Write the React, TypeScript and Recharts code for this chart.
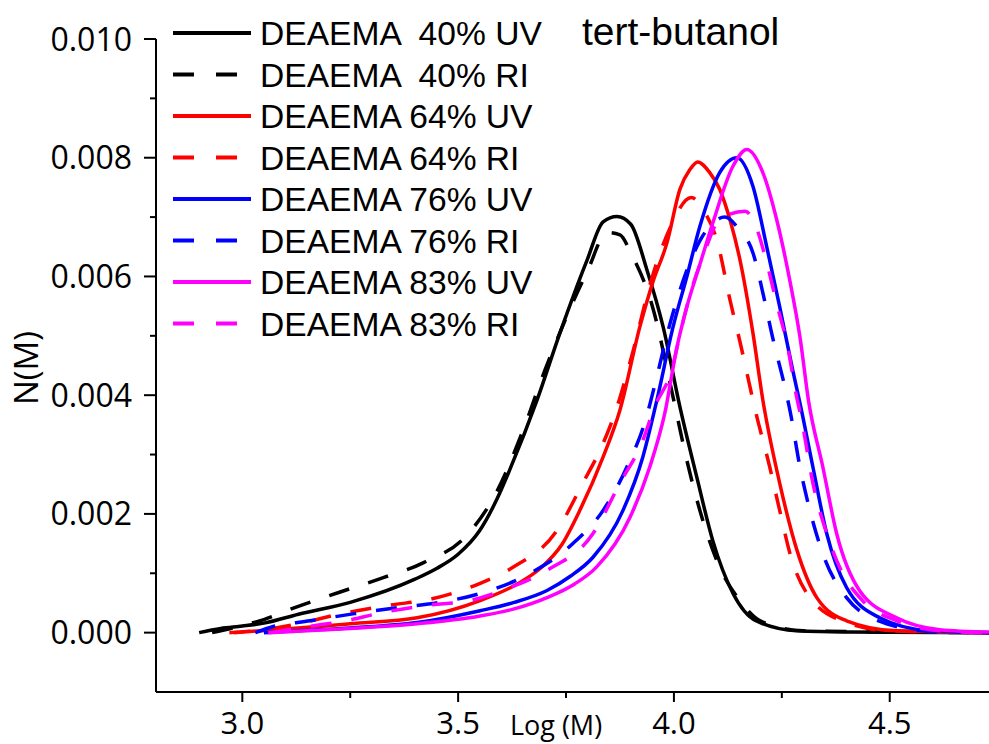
import React from 'react';
import { LineChart, Line, XAxis, YAxis } from 'recharts';

// ---- data: [log(M), N(M)] ----
const uv40: [number, number][] = [
  [2.9, 0], [2.95, 0.00007], [3.0, 0.00011], [3.05, 0.00016], [3.13, 0.00031], [3.25, 0.00051],
  [3.4, 0.0009], [3.45, 0.00108], [3.5, 0.00132], [3.55, 0.00172], [3.59, 0.00225], [3.62, 0.00275],
  [3.683, 0.00392], [3.736, 0.00505], [3.799, 0.00628], [3.836, 0.00692], [3.868, 0.00701],
  [3.9, 0.00688], [3.9375, 0.00611], [3.975, 0.00515], [4.014, 0.0038], [4.053, 0.00262],
  [4.09, 0.00155], [4.137, 0.00066], [4.19, 0.0002], [4.285, 0.00003], [4.4, 0.00001], [4.73, 0],
];
const ri40: [number, number][] = [
  [2.93, 0], [3.0, 0.00012], [3.05, 0.00022], [3.11, 0.00039], [3.225, 0.00068], [3.32, 0.00091],
  [3.42, 0.00118], [3.52, 0.00164], [3.59, 0.00238], [3.65, 0.0034], [3.7, 0.0044],
  [3.75, 0.0053], [3.8, 0.0061], [3.845, 0.00674], [3.875, 0.0067], [3.9, 0.0064],
  [3.95, 0.0055], [4.0, 0.0039], [4.03, 0.0029], [4.067, 0.00189], [4.106, 0.0011],
  [4.153, 0.00054], [4.2, 0.0002], [4.3, 0.00003], [4.73, 0],
];
const uv64: [number, number][] = [
  [2.98, 0], [3.1, 0.00006], [3.25, 0.00015], [3.405, 0.00025], [3.551, 0.00054], [3.637, 0.00082],
  [3.69, 0.00108], [3.74, 0.00148], [3.782, 0.00206], [3.836, 0.00296], [3.875, 0.00375],
  [3.921, 0.00515], [3.951, 0.0059], [3.984, 0.00657], [4.014, 0.00747], [4.037, 0.0078],
  [4.055, 0.00793], [4.083, 0.00775], [4.106, 0.00747], [4.13, 0.00695], [4.153, 0.00628],
  [4.183, 0.00505], [4.206, 0.00392], [4.245, 0.00252], [4.285, 0.00139], [4.331, 0.00059],
  [4.4, 0.0002], [4.516, 0.00003], [4.73, 0],
];
const ri64: [number, number][] = [
  [2.97, 0], [3.05, 0.00005], [3.13, 0.00015], [3.23, 0.00032], [3.34, 0.00046], [3.44, 0.00057],
  [3.551, 0.00083], [3.627, 0.0011], [3.729, 0.00172], [3.789, 0.00252], [3.836, 0.00319],
  [3.868, 0.0038], [3.9, 0.0046], [3.95, 0.006], [3.99, 0.0068], [4.04, 0.00733],
  [4.07, 0.0071], [4.1, 0.0066], [4.13, 0.0056], [4.153, 0.0049], [4.19, 0.0037],
  [4.222, 0.00279], [4.245, 0.00206], [4.269, 0.00133], [4.315, 0.00059], [4.4, 0.00017],
  [4.5, 0.00003], [4.73, 0],
];
const uv76: [number, number][] = [
  [3.05, 0], [3.15, 0.00004], [3.25, 0.00008], [3.405, 0.00017], [3.551, 0.00037], [3.63, 0.00051],
  [3.706, 0.00071], [3.76, 0.00095], [3.8125, 0.00127], [3.882, 0.00206], [3.928, 0.00296],
  [3.96, 0.0039], [3.998, 0.00515], [4.03, 0.006], [4.06, 0.00684], [4.106, 0.00775],
  [4.146, 0.008], [4.183, 0.00752], [4.215, 0.0065], [4.245, 0.00549], [4.275, 0.00443],
  [4.294, 0.0038], [4.322, 0.00279], [4.354, 0.00167], [4.4, 0.00076], [4.477, 0.00025],
  [4.593, 0.00003], [4.73, 0],
];
const ri76: [number, number][] = [
  [3.03, 0], [3.07, 0.0001], [3.157, 0.0002], [3.26, 0.00032], [3.36, 0.00042], [3.458, 0.00051],
  [3.551, 0.00066], [3.667, 0.001], [3.766, 0.0015], [3.836, 0.00206], [3.891, 0.00279],
  [3.935, 0.0036], [3.96, 0.0043], [3.987, 0.0051], [4.02, 0.0059], [4.06, 0.0066],
  [4.09, 0.0069], [4.118, 0.007], [4.15, 0.0068], [4.183, 0.0064], [4.208, 0.00566],
  [4.23, 0.00493], [4.255, 0.0042], [4.27, 0.0037], [4.292, 0.00279], [4.315, 0.00206],
  [4.345, 0.00133], [4.4, 0.00059], [4.493, 0.00015], [4.6, 0.00002], [4.73, 0],
];
const uv83: [number, number][] = [
  [3.06, 0], [3.15, 0.00003], [3.25, 0.00007], [3.405, 0.00015], [3.551, 0.00028], [3.63, 0.0004],
  [3.706, 0.00059], [3.77, 0.00082], [3.82, 0.0011], [3.898, 0.00194], [3.944, 0.00279],
  [3.979, 0.0037], [4.007, 0.00481], [4.03, 0.00549], [4.06, 0.0062], [4.09, 0.0069],
  [4.137, 0.00786], [4.169, 0.00814], [4.206, 0.00775], [4.238, 0.00696], [4.268, 0.00595],
  [4.292, 0.00498], [4.312, 0.0039], [4.345, 0.00279], [4.377, 0.00167], [4.43, 0.00071],
  [4.516, 0.00025], [4.616, 0.00005], [4.73, 0.00001],
];
const ri83: [number, number][] = [
  [3.065, 0], [3.15, 0.0001], [3.24, 0.0002], [3.326, 0.00034], [3.428, 0.00046], [3.528, 0.00054],
  [3.613, 0.00074], [3.706, 0.00105], [3.8125, 0.00167], [3.875, 0.00252], [3.928, 0.00324],
  [3.955, 0.0038], [3.995, 0.00443], [4.018, 0.00515], [4.042, 0.00581], [4.067, 0.00633],
  [4.106, 0.00696], [4.165, 0.0071], [4.19, 0.00684], [4.215, 0.00623], [4.24, 0.00549],
  [4.264, 0.0048], [4.282, 0.00405], [4.296, 0.00358], [4.322, 0.00252], [4.354, 0.00167],
  [4.384, 0.0011], [4.437, 0.00054], [4.516, 0.0002], [4.62, 0.00003], [4.73, 0],
];

const seriesNames = [
  'DEAEMA  40% UV', 'DEAEMA  40% RI', 'DEAEMA 64% UV', 'DEAEMA 64% RI',
  'DEAEMA 76% UV', 'DEAEMA 76% RI', 'DEAEMA 83% UV', 'DEAEMA 83% RI',
];
const seriesData = [uv40, ri40, uv64, ri64, uv76, ri76, uv83, ri83];
const seriesColors = ['#000000', '#000000', '#ff0000', '#ff0000', '#0000ff', '#0000ff', '#ff00ff', '#ff00ff'];
const seriesDashed = [false, true, false, true, false, true, false, true];

const xTicks = [3.0, 3.25, 3.5, 3.75, 4.0, 4.25, 4.5];
const xMajor = [3.0, 3.5, 4.0, 4.5];
const yTicks = [0, 0.001, 0.002, 0.003, 0.004, 0.005, 0.006, 0.007, 0.008, 0.009, 0.01];
const yMajor = [0, 0.002, 0.004, 0.006, 0.008, 0.01];

const title = 'tert-butanol';
const xLabel = 'Log (M)';
const yLabel = 'N(M)';

const TICK_FONT = '"Open Sans", sans-serif';
const LEG_FONT = '"Liberation Sans", Arial, sans-serif';
const DASH = '21 20';

const isMajor = (v: number, list: number[]) => list.some((m) => Math.abs(m - v) < 1e-9);

const XTick = (props: any) => {
  const { x, y, payload } = props;
  const major = isMajor(payload.value, xMajor);
  return (
    <g>
      <line x1={x} x2={x} y1={y} y2={y + (major ? 10 : 6)} stroke="#000" strokeWidth={2} />
      {major && (
        <text x={x} y={y + 42} textAnchor="middle" fontFamily={TICK_FONT} fontSize={31} fill="#000">
          {payload.value.toFixed(1)}
        </text>
      )}
    </g>
  );
};

const YTick = (props: any) => {
  const { x, y, payload } = props;
  const major = isMajor(payload.value, yMajor);
  return (
    <g>
      <line x1={x - (major ? 12 : 6)} x2={x} y1={y} y2={y} stroke="#000" strokeWidth={2} />
      {major && (
        <text x={x - 24} y={y + 11.5} textAnchor="end" fontFamily={TICK_FONT} fontSize={32} fill="#000">
          {payload.value.toFixed(3)}
        </text>
      )}
    </g>
  );
};

export default function App() {
  const lines = seriesData.map((arr) => arr.map(([x, y]) => ({ x, y })));
  return (
    <div style={{ position: 'absolute', left: 0, top: 0, width: 989, height: 744, background: '#fff' }}>
      <LineChart width={989} height={744} margin={{ top: 39, right: 0, bottom: 0, left: 0 }}>
        <XAxis
          type="number"
          dataKey="x"
          domain={[2.8, 4.73]}
          ticks={xTicks}
          interval={0}
          allowDataOverflow
          height={52}
          tickSize={0}
          tickMargin={0}
          tickLine={false}
          axisLine={{ stroke: '#000', strokeWidth: 2 }}
          tick={XTick}
        />
        <YAxis
          type="number"
          dataKey="y"
          domain={[-0.001, 0.01]}
          ticks={yTicks}
          interval={0}
          allowDataOverflow
          width={156}
          tickSize={0}
          tickMargin={0}
          tickLine={false}
          axisLine={{ stroke: '#000', strokeWidth: 2 }}
          tick={YTick}
        />
        {lines.map((d, i) => (
          <Line
            key={seriesNames[i]}
            data={d}
            dataKey="y"
            name={seriesNames[i]}
            type="monotone"
            stroke={seriesColors[i]}
            strokeWidth={3.5}
            strokeDasharray={seriesDashed[i] ? DASH : undefined}
            dot={false}
            activeDot={false}
            isAnimationActive={false}
          />
        ))}
      </LineChart>
      <svg
        width={989}
        height={744}
        style={{ position: 'absolute', left: 0, top: 0, pointerEvents: 'none' }}
      >
        {seriesNames.map((n, i) => {
          const cy = 33 + i * 41.5;
          return (
            <g key={n}>
              <line
                x1={173}
                x2={seriesDashed[i] ? 237 : 251}
                y1={cy}
                y2={cy}
                stroke={seriesColors[i]}
                strokeWidth={4}
                strokeDasharray={seriesDashed[i] ? '21 22' : undefined}
              />
              <text
                x={260}
                y={cy + 12}
                fontFamily={LEG_FONT}
                fontSize={33.6}
                fill="#000"
                style={{ whiteSpace: 'pre' }}
              >
                {n}
              </text>
            </g>
          );
        })}
        <text x={582} y={45} fontFamily={LEG_FONT} fontSize={39} fill="#000">
          {title}
        </text>
        <text x={556} y={735} textAnchor="middle" fontFamily={TICK_FONT} fontSize={27} fill="#000">
          {xLabel}
        </text>
        <text
          x={38}
          y={368}
          textAnchor="middle"
          transform="rotate(-90, 38, 368)"
          fontFamily={TICK_FONT}
          fontSize={33}
          fill="#000"
        >
          {yLabel}
        </text>
      </svg>
    </div>
  );
}
